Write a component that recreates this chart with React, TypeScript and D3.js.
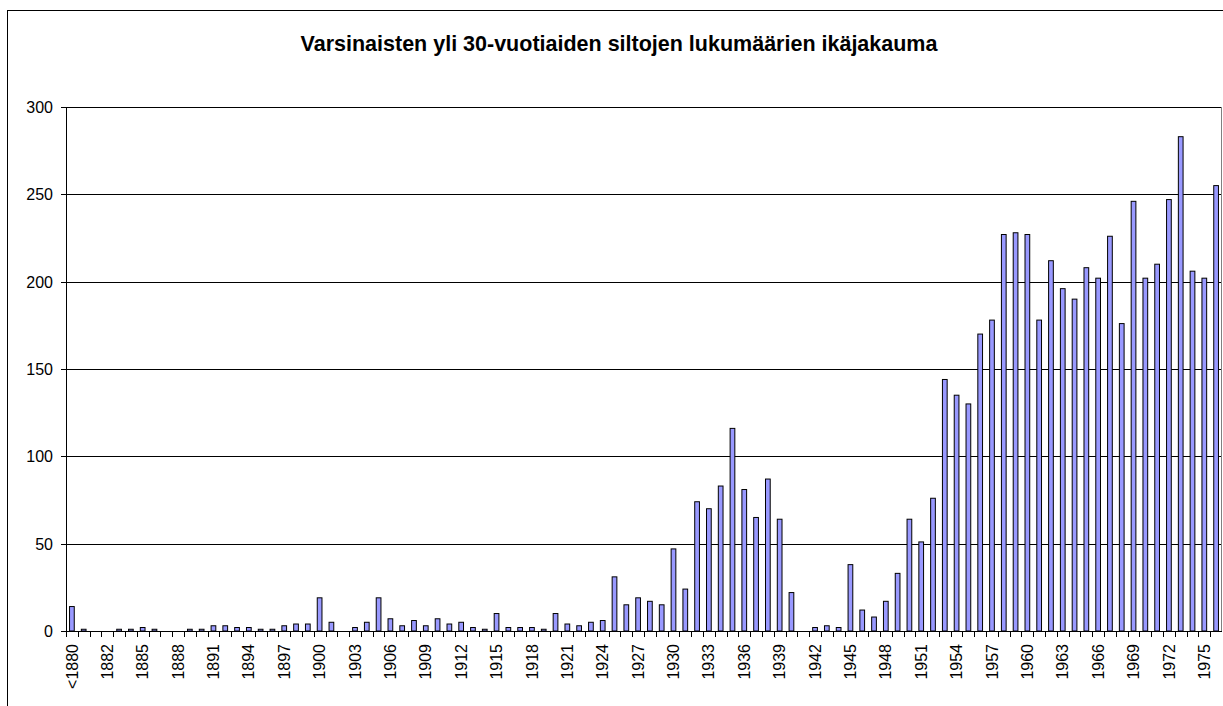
// Siltojen ikäjakauma – pylväskaavio
import * as d3 from 'd3'

const title = 'Varsinaisten yli 30-vuotiaiden siltojen lukumäärien ikäjakauma'

const categories = [
  '<1880', '1880', '1881', '1882', '1883', '1884', '1885', '1886', '1887', '1888',
  '1889', '1890', '1891', '1892', '1893', '1894', '1895', '1896', '1897', '1898',
  '1899', '1900', '1901', '1902', '1903', '1904', '1905', '1906', '1907', '1908',
  '1909', '1910', '1911', '1912', '1913', '1914', '1915', '1916', '1917', '1918',
  '1919', '1920', '1921', '1922', '1923', '1924', '1925', '1926', '1927', '1928',
  '1929', '1930', '1931', '1932', '1933', '1934', '1935', '1936', '1937', '1938',
  '1939', '1940', '1941', '1942', '1943', '1944', '1945', '1946', '1947', '1948',
  '1949', '1950', '1951', '1952', '1953', '1954', '1955', '1956', '1957', '1958',
  '1959', '1960', '1961', '1962', '1963', '1964', '1965', '1966', '1967', '1968',
  '1969', '1970', '1971', '1972', '1973', '1974', '1975', '1976',
]

const counts = [
  14, 1, 0, 0, 1, 1, 2, 1, 0, 0,
  1, 1, 3, 3, 2, 2, 1, 1, 3, 4,
  4, 19, 5, 0, 2, 5, 19, 7, 3, 6,
  3, 7, 4, 5, 2, 1, 10, 2, 2, 2,
  1, 10, 4, 3, 5, 6, 31, 15, 19, 17,
  15, 47, 24, 74, 70, 83, 116, 81, 65, 87,
  64, 22, 0, 2, 3, 2, 38, 12, 8, 17,
  33, 64, 51, 76, 144, 135, 130, 170, 178, 227,
  228, 227, 178, 212, 196, 190, 208, 202, 226, 176,
  246, 202, 210, 247, 283, 206, 202, 255,
]

const yTicks = [0, 50, 100, 150, 200, 250, 300]

// joka kolmas vuosi nimetään akselille
const xLabels = categories.filter((_, i) => i % 3 === 0)

const W = 1223
const H = 706
const plot = { left: 66, right: 1222, top: 107, bottom: 631 }
const font = '"Liberation Sans", Arial, sans-serif'

export default function App() {
  const x = d3.scaleBand<string>()
    .domain(categories)
    .range([plot.left, plot.right])
    .paddingInner(0.6)
    .paddingOuter(0.3)

  const y = d3.scaleLinear().domain([0, 300]).range([plot.bottom, plot.top])

  const step = x.step()
  const data = categories.map((c, i) => ({ cat: c, value: counts[i] }))

  return (
    <svg width={W} height={H} style={{ position: 'absolute', left: 0, top: 0, background: '#fff' }}
      fontFamily={font}>
      <rect x={0} y={0} width={W} height={H} fill="#fff" />
      {/* kaavion kehys */}
      <rect x={7.5} y={10.5} width={W + 20} height={H + 20} fill="none" stroke="#000" />

      <text x={619} y={51} textAnchor="middle" fontSize={21.5} fontWeight="bold" fill="#000">{title}</text>

      {/* apuviivat */}
      {yTicks.filter(t => t > 0).map(t => (
        <line key={t} x1={plot.left} x2={plot.right} y1={Math.round(y(t)) + 0.5} y2={Math.round(y(t)) + 0.5}
          stroke="#000" strokeWidth={1} />
      ))}
      <line x1={plot.right - 0.5} x2={plot.right - 0.5} y1={plot.top} y2={plot.bottom} stroke="#808080" />

      {/* pylväät */}
      {data.map(d => {
        const top = y(d.value)
        return (
          <rect key={d.cat} x={x(d.cat)} y={top} width={x.bandwidth()} height={plot.bottom - top}
            fill="#9999FF" stroke="#000" strokeWidth={1} />
        )
      })}

      {/* y-akseli */}
      <line x1={plot.left + 0.5} x2={plot.left + 0.5} y1={plot.top} y2={plot.bottom + 0.5} stroke="#000" />
      {yTicks.map(t => {
        const yy = Math.round(y(t)) + 0.5
        return (
          <g key={t}>
            <line x1={plot.left - 5} x2={plot.left} y1={yy} y2={yy} stroke="#000" />
            <text x={plot.left - 13} y={yy} dy="0.35em" textAnchor="end" fontSize={16} fill="#000">{t}</text>
          </g>
        )
      })}

      {/* x-akseli */}
      <line x1={plot.left} x2={plot.right} y1={plot.bottom + 0.5} y2={plot.bottom + 0.5} stroke="#000" />
      {categories.map((c, i) => {
        const xx = Math.round(plot.left + i * step) + 0.5
        return <line key={c} x1={xx} x2={xx} y1={plot.bottom} y2={plot.bottom + 6} stroke="#000" />
      })}
      {xLabels.map(c => {
        const cx = (x(c) as number) + x.bandwidth() / 2
        return (
          <text key={c} transform={`translate(${cx},${plot.bottom + 13}) rotate(-90)`}
            dy="0.35em" textAnchor="end" fontSize={16} fill="#000">{c}</text>
        )
      })}
    </svg>
  )
}
